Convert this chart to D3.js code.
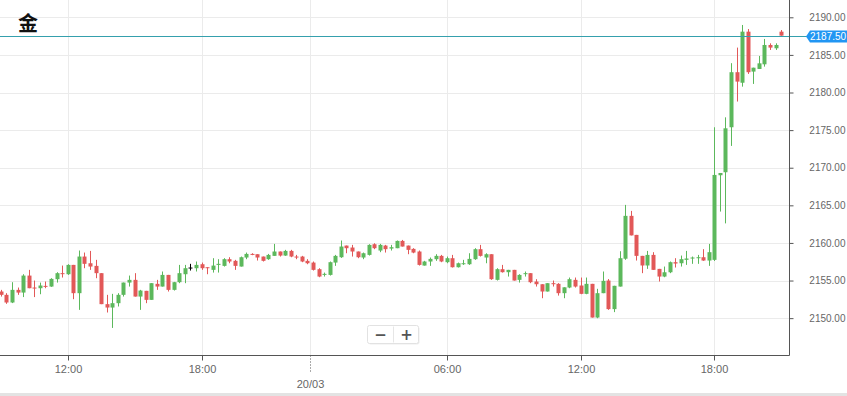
<!DOCTYPE html>
<html lang="zh">
<head>
<meta charset="UTF-8">
<title>金</title>
<style>
  html, body { margin: 0; padding: 0; background: #fff; overflow: hidden; }
  svg { display: block; font-family: "Liberation Sans", Arial, sans-serif; }
</style>
</head>
<body>
<div id="chart"></div>
<script src="https://d3js.org/d3.v7.min.js"></script>
<script>
// 15 minute candles; candle index 0 is 12:00 on 19/03, first candle shown is index -12
var firstIndex = -12;
var open = [
  2153.54, 2153.10, 2152.08, 2153.76, 2153.40, 2155.66, 2154.07, 2153.98, 2154.29, 2154.20, 2155.18, 2155.98,
  2155.84, 2157.08, 2153.32, 2158.19, 2157.30, 2156.95, 2155.98, 2151.86, 2151.41, 2151.99, 2153.10, 2154.73,
  2155.09, 2152.87, 2153.63, 2152.43, 2154.56, 2154.20, 2155.75, 2153.76, 2154.78, 2155.84, 2156.73, 2156.64,
  2157.17, 2156.77, 2156.42, 2157.08, 2156.95, 2157.84, 2157.62, 2156.86, 2158.06, 2158.54, 2158.50, 2158.19,
  2157.84, 2158.28, 2158.86, 2158.32, 2158.94, 2158.19, 2158.19, 2157.62, 2157.39, 2156.51, 2155.75, 2155.75,
  2157.39, 2158.10, 2159.65, 2159.39, 2158.86, 2158.06, 2158.41, 2159.83, 2158.99, 2159.65, 2159.25, 2159.30,
  2160.27, 2159.65, 2159.21, 2158.86, 2156.99, 2157.53, 2157.84, 2158.28, 2157.44, 2157.97, 2156.77, 2157.17,
  2157.17, 2157.84, 2159.17, 2158.06, 2158.50, 2155.09, 2156.51, 2156.11, 2156.42, 2155.09, 2155.89, 2155.98,
  2154.87, 2154.51, 2153.54, 2154.65, 2154.56, 2153.32, 2154.07, 2155.09, 2154.34, 2153.23, 2154.56, 2150.08,
  2153.32, 2155.00, 2151.20, 2154.20, 2157.90, 2163.60, 2161.07, 2158.28, 2157.00, 2158.41, 2156.55, 2155.53,
  2156.10, 2157.44, 2157.30, 2157.75, 2157.93, 2157.97, 2158.10, 2157.66, 2157.75, 2169.00, 2169.40, 2175.38,
  2182.70, 2181.30, 2188.09, 2182.78, 2183.13, 2183.75, 2186.32, 2185.88, 2188.09
];
var high = [
  2153.76, 2153.32, 2154.78, 2154.07, 2155.84, 2156.42, 2155.00, 2154.73, 2154.87, 2155.31, 2156.11, 2156.99,
  2157.17, 2157.08, 2158.99, 2158.72, 2158.94, 2157.75, 2155.98, 2153.10, 2153.23, 2153.32, 2154.73, 2155.66,
  2155.98, 2153.76, 2153.63, 2154.65, 2155.09, 2156.20, 2155.75, 2154.82, 2157.08, 2157.08, 2157.22, 2157.53,
  2157.39, 2156.77, 2157.97, 2157.84, 2157.97, 2158.10, 2157.75, 2158.19, 2158.72, 2158.63, 2158.50, 2158.19,
  2158.54, 2159.87, 2158.86, 2159.08, 2159.08, 2158.41, 2158.28, 2157.84, 2157.53, 2156.64, 2156.06, 2157.53,
  2158.41, 2160.32, 2159.65, 2159.74, 2158.86, 2158.72, 2159.83, 2159.96, 2159.87, 2159.74, 2159.74, 2160.32,
  2160.40, 2159.65, 2159.30, 2158.99, 2157.62, 2158.06, 2158.50, 2158.41, 2158.19, 2158.41, 2157.39, 2157.75,
  2158.63, 2159.30, 2159.74, 2158.63, 2158.50, 2156.64, 2157.08, 2156.42, 2156.42, 2155.84, 2156.20, 2155.98,
  2155.18, 2154.51, 2154.65, 2155.00, 2154.65, 2154.10, 2155.40, 2155.40, 2155.40, 2155.40, 2154.56, 2153.90,
  2156.20, 2155.20, 2154.30, 2158.90, 2165.06, 2164.26, 2161.07, 2158.28, 2158.94, 2158.77, 2156.55, 2156.86,
  2157.53, 2157.97, 2158.32, 2158.94, 2158.19, 2158.41, 2159.17, 2159.87, 2175.38, 2169.30, 2176.70, 2183.90,
  2185.97, 2188.98, 2188.44, 2183.30, 2184.86, 2187.12, 2186.54, 2186.54, 2188.31
];
var low = [
  2152.87, 2151.90, 2152.00, 2153.10, 2152.80, 2153.98, 2152.80, 2153.18, 2153.98, 2154.16, 2154.73, 2155.40,
  2155.75, 2152.52, 2151.10, 2156.64, 2156.42, 2155.31, 2151.86, 2150.75, 2148.70, 2151.55, 2152.87, 2154.20,
  2152.87, 2151.10, 2151.99, 2152.43, 2153.76, 2154.20, 2153.54, 2153.67, 2154.65, 2154.65, 2156.33, 2156.20,
  2156.42, 2155.84, 2156.06, 2156.06, 2156.86, 2157.30, 2156.42, 2156.86, 2157.84, 2158.37, 2157.66, 2157.53,
  2157.75, 2158.28, 2158.19, 2158.28, 2158.10, 2157.84, 2157.44, 2157.17, 2156.33, 2155.44, 2155.53, 2155.66,
  2156.95, 2158.01, 2158.63, 2158.19, 2157.97, 2157.84, 2158.32, 2159.17, 2158.77, 2158.72, 2158.99, 2159.30,
  2159.52, 2158.50, 2158.63, 2156.99, 2156.99, 2156.95, 2157.62, 2157.44, 2157.30, 2156.73, 2156.73, 2157.08,
  2157.08, 2157.75, 2158.19, 2157.30, 2155.09, 2155.00, 2156.06, 2155.53, 2155.00, 2154.73, 2155.53, 2154.65,
  2154.20, 2152.65, 2153.54, 2154.20, 2153.00, 2152.65, 2153.98, 2154.07, 2153.18, 2153.18, 2150.08, 2149.99,
  2153.32, 2151.10, 2150.80, 2154.20, 2157.75, 2161.00, 2157.66, 2155.98, 2156.55, 2156.42, 2154.87, 2155.44,
  2155.98, 2156.73, 2156.86, 2157.08, 2157.22, 2157.22, 2157.62, 2156.95, 2157.60, 2164.17, 2162.60, 2172.90,
  2178.80, 2180.78, 2182.47, 2181.14, 2183.13, 2183.44, 2185.66, 2185.66, 2187.56
];
var close = [
  2153.10, 2152.08, 2153.76, 2153.40, 2155.66, 2153.98, 2153.94, 2154.34, 2154.16, 2155.22, 2155.98, 2155.89,
  2157.08, 2153.32, 2158.19, 2157.22, 2156.86, 2155.98, 2151.86, 2151.41, 2151.99, 2153.10, 2154.73, 2155.09,
  2152.87, 2153.67, 2152.43, 2154.65, 2154.20, 2155.75, 2153.76, 2154.78, 2155.98, 2156.64, 2156.73, 2157.08,
  2156.64, 2156.64, 2156.99, 2157.22, 2157.84, 2157.53, 2156.95, 2158.10, 2158.54, 2158.46, 2158.06, 2157.62,
  2158.41, 2158.86, 2158.32, 2158.94, 2158.19, 2158.10, 2157.53, 2157.30, 2156.42, 2155.53, 2155.89, 2157.44,
  2158.28, 2159.52, 2159.30, 2158.86, 2158.10, 2158.63, 2159.74, 2159.30, 2159.74, 2159.17, 2159.43, 2160.27,
  2159.52, 2159.08, 2158.72, 2157.08, 2157.53, 2157.88, 2158.28, 2157.53, 2157.97, 2156.77, 2157.30, 2157.30,
  2157.88, 2159.17, 2158.28, 2158.50, 2155.18, 2156.51, 2156.11, 2156.42, 2155.00, 2155.75, 2155.98, 2154.78,
  2154.51, 2153.54, 2154.65, 2154.51, 2153.32, 2154.10, 2155.18, 2154.20, 2153.23, 2154.56, 2150.08, 2153.32,
  2154.96, 2151.20, 2154.30, 2157.97, 2163.60, 2161.00, 2158.28, 2157.00, 2158.41, 2156.42, 2155.53, 2156.10,
  2157.44, 2157.26, 2157.84, 2157.93, 2158.06, 2158.10, 2157.66, 2158.77, 2169.04, 2169.30, 2175.24, 2182.70,
  2181.45, 2188.09, 2182.70, 2183.30, 2183.88, 2186.32, 2185.97, 2186.32, 2187.56
];

var priceTicks = [2150, 2155, 2160, 2165, 2170, 2175, 2180, 2185, 2190];
var timeTickIndex = [0, 24, 43.5, 68, 92, 116];
var timeTickLabels = ["12:00", "18:00", "", "06:00", "12:00", "18:00"];
var dayLabel = "20/03";
var dayTickIndex = 43.5;
var lastPrice = 2187.50;
var title = "金";

var width = 847, height = 396;
var plotRight = 789, plotBottom = 355;

var candles = open.map(function (o, i) {
  return { i: firstIndex + i, o: o, h: high[i], l: low[i], c: close[i] };
});

var x = d3.scaleLinear().domain([-12.15, 129.4]).range([0, plotRight]);
var y = d3.scaleLinear().domain([2145.1, 2192.3]).range([plotBottom, 0]);

var svg = d3.select("#chart").append("svg")
  .attr("width", width)
  .attr("height", height);

svg.append("defs").append("clipPath").attr("id", "plot-clip")
  .append("rect").attr("x", 0).attr("y", 0).attr("width", plotRight).attr("height", plotBottom);

// grid
var grid = svg.append("g");
grid.selectAll("line.h").data(priceTicks).enter().append("line")
  .attr("x1", 0).attr("x2", plotRight)
  .attr("y1", function (d) { return Math.round(y(d)) + 0.5; })
  .attr("y2", function (d) { return Math.round(y(d)) + 0.5; })
  .attr("stroke", "#ebebeb");
grid.selectAll("line.v").data(timeTickIndex).enter().append("line")
  .attr("x1", function (d) { return Math.round(x(d)) + 0.5; })
  .attr("x2", function (d) { return Math.round(x(d)) + 0.5; })
  .attr("y1", 0).attr("y2", plotBottom)
  .attr("stroke", "#ebebeb");

// candles
var up = "#5cb85c", down = "#e25858";
function colour(d) {
  if (d.o === d.c) return "#000";
  return d.c > d.o ? up : down;
}
var cg = svg.append("g").attr("clip-path", "url(#plot-clip)")
  .selectAll("g").data(candles).enter().append("g");

cg.append("line")
  .attr("x1", function (d) { return Math.round(x(d.i)) + 0.5; })
  .attr("x2", function (d) { return Math.round(x(d.i)) + 0.5; })
  .attr("y1", function (d) { return y(d.h); })
  .attr("y2", function (d) { return y(d.l); })
  .attr("stroke", colour)
  .attr("stroke-width", 1);

cg.append("rect")
  .attr("x", function (d) { return Math.round(x(d.i)) - 1.5; })
  .attr("width", 4)
  .attr("y", function (d) { return y(Math.max(d.o, d.c)); })
  .attr("height", function (d) { return Math.max(1, Math.abs(y(d.o) - y(d.c))); })
  .attr("fill", colour);

// last price line
svg.append("line")
  .attr("x1", 0).attr("x2", 808)
  .attr("y1", Math.round(y(lastPrice)) + 0.5)
  .attr("y2", Math.round(y(lastPrice)) + 0.5)
  .attr("stroke", "#35a0ad");

// axes
var yAxis = svg.append("g")
  .attr("transform", "translate(" + (plotRight + 0.5) + ",0)")
  .call(d3.axisRight(y).tickValues(priceTicks).tickSize(4).tickSizeOuter(0)
    .tickFormat(d3.format(".2f")));
yAxis.select(".domain").attr("stroke", "#555").attr("d", "M0,0V" + (plotBottom + 0.5));
yAxis.selectAll(".tick line").attr("stroke", "#555");
yAxis.selectAll(".tick text")
  .attr("x", 56).attr("text-anchor", "end")
  .attr("fill", "#666").style("font-size", "10px");

var xAxis = svg.append("g")
  .attr("transform", "translate(0," + (plotBottom + 0.5) + ")")
  .call(d3.axisBottom(x).tickValues(timeTickIndex).tickSize(5).tickSizeOuter(0)
    .tickFormat(function (d, i) { return timeTickLabels[i]; }));
xAxis.select(".domain").attr("stroke", "#555").attr("d", "M0,0H" + (plotRight + 0.5));
xAxis.selectAll(".tick line").attr("stroke", "#555");
xAxis.selectAll(".tick")
  .attr("transform", function (d) { return "translate(" + (Math.round(x(d)) + 0.5) + ",0)"; });
xAxis.selectAll(".tick text")
  .attr("y", 17).attr("dy", null)
  .attr("fill", "#666").style("font-size", "11px");
xAxis.selectAll(".tick").filter(function (d) { return d === dayTickIndex; })
  .select("line").attr("y2", 18).attr("stroke-dasharray", "1,2");
xAxis.append("text")
  .attr("x", Math.round(x(dayTickIndex)) + 0.5).attr("y", 32)
  .attr("text-anchor", "middle").attr("fill", "#666")
  .style("font-size", "11px").text(dayLabel);

// last price label
var lp = svg.append("g").attr("transform", "translate(0," + (Math.round(y(lastPrice)) + 0.5) + ")");
lp.append("path")
  .attr("d", "M806,0 L810,-6 H850 V6 H810 Z")
  .attr("fill", "#2196f3");
lp.append("text")
  .attr("x", 810).attr("y", 3.5)
  .attr("fill", "#fff").style("font-size", "10px")
  .text(d3.format(".2f")(lastPrice));

// title
svg.append("text")
  .attr("x", 18).attr("y", 31)
  .style("font-family", "'Noto Sans CJK SC', sans-serif")
  .style("font-weight", "bold").style("font-size", "20px")
  .attr("fill", "#111").text(title);

// zoom buttons
var zb = svg.append("g").attr("transform", "translate(367.5,325.5)");
zb.append("rect").attr("x", 1).attr("y", 1).attr("width", 51).attr("height", 18).attr("rx", 2).attr("fill", "#eee");
zb.append("rect").attr("width", 51).attr("height", 18).attr("rx", 2)
  .attr("fill", "#fff").attr("stroke", "#e2e2e2");
zb.append("line").attr("x1", 26).attr("x2", 26).attr("y1", 1).attr("y2", 17).attr("stroke", "#e6e6e6");
zb.append("text").attr("x", 13).attr("y", 14).attr("text-anchor", "middle")
  .style("font-family", "'DejaVu Sans', sans-serif").style("font-weight", "bold").style("font-size", "15px")
  .attr("fill", "#555").text("−");
zb.append("text").attr("x", 39).attr("y", 14).attr("text-anchor", "middle")
  .style("font-family", "'DejaVu Sans', sans-serif").style("font-weight", "bold").style("font-size", "15px")
  .attr("fill", "#555").text("+");

// bottom band
svg.append("rect").attr("x", 0).attr("y", 393).attr("width", width).attr("height", 3).attr("fill", "#e3e3e3");
</script>
</body>
</html>
